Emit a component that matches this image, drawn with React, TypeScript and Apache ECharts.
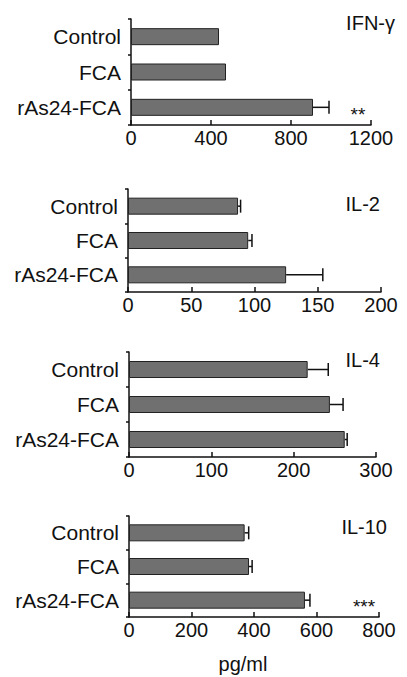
import React, { useEffect, useRef } from "react";
import * as echarts from "echarts";

const categories = ["Control", "FCA", "rAs24-FCA"];

const panelTitles = ["IFN-γ", "IL-2", "IL-4", "IL-10"];

const ifnMeans = [440, 475, 910];
const ifnErrors = [0, 0, 80];
const il2Means = [87, 95, 125];
const il2Errors = [2, 3, 29];
const il4Means = [217, 244, 262];
const il4Errors = [25, 16, 3];
const il10Means = [370, 384, 563];
const il10Errors = [13, 10, 16];

const axisMax = [1200, 200, 300, 800];
const axisInterval = [400, 50, 100, 200];

const significance = ["**", "", "", "***"];

const unitLabel = "pg/ml";

const FONT = "'Liberation Sans', Arial, Helvetica, sans-serif";

export default function App() {
  const ref = useRef<HTMLDivElement>(null);

  useEffect(() => {
    document.body.style.margin = "0";
    const chart = echarts.init(ref.current!, undefined, { renderer: "svg" });

    const means = [ifnMeans, il2Means, il4Means, il10Means];
    const errors = [ifnErrors, il2Errors, il4Errors, il10Errors];

    const grids = [
      { left: 131, right: 36, top: 19, height: 106 },
      { left: 128, right: 26, top: 189, height: 103 },
      { left: 129, right: 31, top: 352, height: 105 },
      { left: 129, right: 28, top: 516, height: 101 },
    ];

    const xAxes = grids.map((_, i) => ({
      type: "value",
      gridIndex: i,
      min: 0,
      max: axisMax[i],
      interval: axisInterval[i],
      axisLine: { show: true, lineStyle: { color: "#111", width: 1.5 } },
      axisTick: { show: true, inside: true, length: 5, lineStyle: { color: "#111", width: 1.5 } },
      splitLine: { show: false },
      axisLabel: {
        color: "#111",
        fontSize: 20,
        fontFamily: FONT,
        margin: 3,
        formatter: (v: number) => String(v),
      },
    }));

    const yAxes = grids.map((_, i) => ({
      type: "category",
      gridIndex: i,
      data: categories,
      inverse: true,
      axisLine: { show: true, lineStyle: { color: "#111", width: 1.5 } },
      axisTick: { show: true, inside: false, length: 3, lineStyle: { color: "#111", width: 1.5 } },
      axisLabel: { color: "#111", fontSize: 21, fontFamily: FONT, margin: 10 },
    }));

    const series: any[] = [];
    grids.forEach((_, i) => {
      series.push({
        type: "bar",
        xAxisIndex: i,
        yAxisIndex: i,
        data: means[i],
        barWidth: 17,
        itemStyle: { color: "#707070", borderColor: "#222", borderWidth: 1 },
        silent: true,
      });
      series.push({
        type: "custom",
        xAxisIndex: i,
        yAxisIndex: i,
        data: means[i].map((m, k) => [m, k, errors[i][k]]),
        encode: { x: 0, y: 1 },
        silent: true,
        renderItem: (params: any, api: any) => {
          const val = api.value(0);
          const cat = api.value(1);
          const err = api.value(2);
          if (!err) return { type: "group", children: [] };
          const s = api.coord([val, cat]);
          const e = api.coord([val + err, cat]);
          const st = { stroke: "#111", lineWidth: 1.5 };
          return {
            type: "group",
            children: [
              { type: "line", shape: { x1: s[0], y1: s[1], x2: e[0], y2: e[1] }, style: st },
              { type: "line", shape: { x1: e[0], y1: e[1] - 6.5, x2: e[0], y2: e[1] + 6.5 }, style: st },
            ],
          };
        },
      });
    });

    const titlePos = [
      { x: 395, y: 23 },
      { x: 380, y: 204 },
      { x: 380, y: 360 },
      { x: 387, y: 527 },
    ];
    const starPos = [
      { x: 358, y: 114 },
      { x: 0, y: 0 },
      { x: 0, y: 0 },
      { x: 364, y: 606 },
    ];

    const graphics: any[] = [];
    panelTitles.forEach((t, i) => {
      graphics.push({
        type: "text",
        x: titlePos[i].x,
        y: titlePos[i].y,
        style: { text: t, fill: "#111", fontSize: 20, fontFamily: FONT, textAlign: "right", textVerticalAlign: "middle" },
      });
      if (significance[i]) {
        graphics.push({
          type: "text",
          x: starPos[i].x,
          y: starPos[i].y,
          style: { text: significance[i], fill: "#111", fontSize: 19, fontFamily: FONT, textAlign: "center", textVerticalAlign: "middle" },
        });
      }
    });
    graphics.push({
      type: "text",
      x: 243,
      y: 664,
      style: { text: unitLabel, fill: "#111", fontSize: 20, fontFamily: FONT, textAlign: "center", textVerticalAlign: "middle" },
    });

    chart.setOption({
      animation: false,
      backgroundColor: "#ffffff",
      grid: grids.map((g) => ({ ...g, containLabel: false })),
      xAxis: xAxes,
      yAxis: yAxes,
      series,
      graphic: graphics,
    });

    return () => chart.dispose();
  }, []);

  return <div ref={ref} style={{ position: "absolute", left: 0, top: 0, width: 407, height: 677 }} />;
}
